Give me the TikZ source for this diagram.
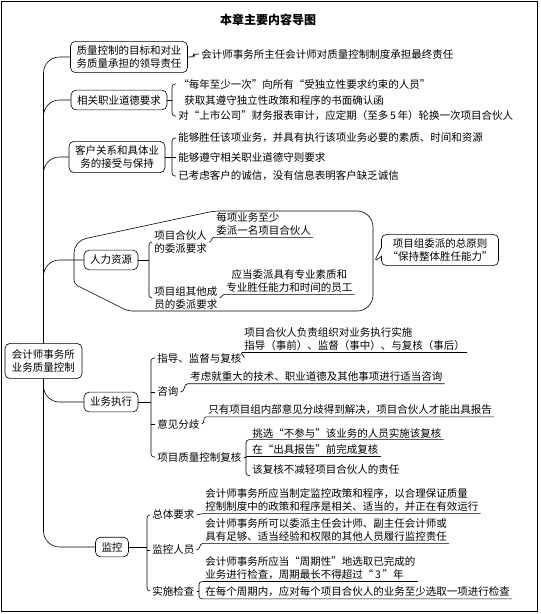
\documentclass[tikz,border=0pt]{standalone}
\usepackage{fontspec}
\newfontfamily\cjk{Noto Sans CJK SC}
\usetikzlibrary{shapes.callouts}
\tikzset{
  topic/.style={draw, rounded corners=5pt, align=center, inner xsep=6pt, inner ysep=5pt},
  leaf/.style={anchor=west, align=left, inner xsep=2pt, inner ysep=1.5pt},
  hook/.style={rounded corners=3pt},
  branch/.style={rounded corners=16pt},
  curl/.style={out=0, in=180, looseness=1.2}
}
\begin{document}
\begin{tikzpicture}[x=1pt, y=-1pt, line width=0.6pt, font=\cjk\fontsize{10.5}{13.5}\selectfont]
  \useasboundingbox (0,0) rectangle (541,614);
  \draw[line width=1pt] (1.5,1.5) rectangle (537.5,611);
  \node[font=\cjk\bfseries\fontsize{12}{14}\selectfont] (title) at (268,20) {本章主要内容导图};

  \node[topic, inner xsep=7pt, inner ysep=6pt] (root) at (43.5,361) {会计师事务所\\业务质量控制};
  \node[topic, inner ysep=4pt] (qc) at (129,57) {质量控制的目标和对业\\务质量承担的领导责任};
  \node[topic] (ethic) at (119,100) {相关职业道德要求};
  \node[topic, inner ysep=4pt] (client) at (117,157) {客户关系和具体业\\务的接受与保持};
  \node[topic] (hr) at (111,260) {人力资源};
  \node[topic] (exec) at (111,402) {业务执行};
  \node[topic] (mon) at (112,547) {监控};

  \draw[branch] (root.north) |- (qc.west);
  \draw[branch] (root.north) |- (ethic.west);
  \draw[branch] (root.north) |- (client.west);
  \draw[branch] (root.north) |- (hr.west);
  \draw[branch] (root.south) |- (exec.west);
  \draw[branch] (root.south) |- (mon.west);

  \node[leaf] (lqc) at (199,54) {会计师事务所主任会计师对质量控制制度承担最终责任};
  \draw[hook] (qc.east) -- ++(6,0) |- (lqc.west);

  \node[leaf] (e1) at (176,84) {“每年至少一次”向所有“受独立性要求约束的人员”};
  \node[leaf] (e2) at (182,100) {获取其遵守独立性政策和程序的书面确认函};
  \node[leaf] (e3) at (176,116) {对“上市公司”财务报表审计，应定期（至多\,5\,年）轮换一次项目合伙人};
  \coordinate (eb) at (172,100);
  \draw[hook] (e1.west) -| (eb) |- (e3.west);
  \draw (ethic.east) -- (eb);

  \node[leaf] (c1) at (176,138) {能够胜任该项业务，并具有执行该项业务必要的素质、时间和资源};
  \node[leaf] (c2) at (176,157) {能够遵守相关职业道德守则要求};
  \node[leaf] (c3) at (176,176) {已考虑客户的诚信，没有信息表明客户缺乏诚信};
  \coordinate (cb) at (172,157);
  \draw[hook] (c1.west) -| (cb) |- (c3.west);
  \draw (client.east) -- (c2.west);

  \draw[rounded corners=4pt] (74,284) [rounded corners=12pt] -- (74,241) [rounded corners=6pt] -- (214,211)
    [rounded corners=16pt] -- (373,211) -- (373,311) [rounded corners=4pt] -- (128,311) -- cycle;
  \node[rectangle callout, draw, rounded corners=5pt, align=center, inner xsep=6pt, inner ysep=4pt,
    callout absolute pointer={(374,262)}, callout pointer width=9pt] (rule) at (440,250)
    {项目组委派的总原则\\“保持整体胜任能力”};

  \node[leaf] (hp) at (152,242) {项目合伙人\\的委派要求};
  \node[leaf] (ho) at (152,298) {项目组其他成\\员的委派要求};
  \coordinate (hb) at (149,260);
  \draw[hook] (hp.west) -| (hb) |- (ho.west);
  \draw (hr.east) -- (hb);
  \node[leaf] (hpl) at (214,224) {每项业务至少\\委派一名项目合伙人};
  \node[leaf, align=center] (hol) at (224,281) {应当委派具有专业素质和\\专业胜任能力和时间的员工};
  \draw (hp.east) to[curl] (hpl.south west) -- (hpl.south east);
  \draw (ho.east) to[curl] (hol.south west) -- (hol.south east);

  \node[leaf] (guide) at (155,358) {指导、监督与复核};
  \node[leaf] (con) at (155,392) {咨询};
  \node[leaf] (dis) at (155,424) {意见分歧};
  \node[leaf] (qcr) at (155,457) {项目质量控制复核};
  \coordinate (xb) at (151,402);
  \draw[hook] (guide.west) -| (xb) |- (qcr.west);
  \draw (xb |- con.west) -- (con.west);
  \draw (xb |- dis.west) -- (dis.west);
  \draw (exec.east) -- (xb);
  \node[leaf] (gl) at (242,339) {项目合伙人负责组织对业务执行实施\\指导（事前）、监督（事中）、与复核（事后）};
  \node[leaf] (cl) at (188,377) {考虑就重大的技术、职业道德及其他事项进行适当咨询};
  \node[leaf] (dl) at (206,410) {只有项目组内部意见分歧得到解决，项目合伙人才能出具报告};
  \draw (guide.east) to[curl] (gl.south west) -- (gl.south east);
  \draw (con.east) to[curl] (cl.south west) -- (cl.south east);
  \draw (dis.east) to[curl] (dl.south west) -- (dl.south east);

  \node[leaf] (q1) at (250,433) {挑选“不参与”该业务的人员实施该复核};
  \node[leaf] (q2) at (250,450) {在“出具报告”前完成复核};
  \node[leaf] (q3) at (250,469) {该复核不减轻项目合伙人的责任};
  \coordinate (qb) at (246,457);
  \draw[hook] (q1.south east) -| (qb) |- (q3.south west);
  \draw (qb |- q2.south) -- (q2.south east);
  \draw (qcr.east) -- (qb);

  \node[leaf] (req) at (150,515) {总体要求};
  \node[leaf] (staff) at (150,550) {监控人员};
  \node[leaf] (insp) at (150,591) {实施检查};
  \coordinate (mb) at (147,547);
  \draw[hook] (req.west) -| (mb) |- (insp.west);
  \draw (mb |- staff.west) -- (staff.west);
  \draw (mon.east) -- (mb);
  \node[leaf] (rl) at (203,500) {会计师事务所应当制定监控政策和程序，以合理保证质量\\控制制度中的政策和程序是相关、适当的，并正在有效运行};
  \node[leaf] (sl) at (203,530) {会计师事务所可以委派主任会计师、副主任会计师或\\具有足够、适当经验和权限的其他人员履行监控责任};
  \node[leaf] (il) at (203,568) {会计师事务所应当“周期性”地选取已完成的\\业务进行检查，周期最长不得超过“\,3\,”年};
  \node[leaf] (i2) at (203,592) {在每个周期内，应对每个项目合伙人的业务至少选取一项进行检查};
  \draw (req.east) to[curl] (rl.south west) -- (rl.south east);
  \draw (staff.east) to[curl] (sl.south west) -- (sl.south east);
  \draw (il.south west) -- (il.south east);
  \coordinate (ib) at (199,591);
  \draw[hook] (il.south west) -| (ib) |- (i2.south east);
  \draw (insp.east) -- (ib);
\end{tikzpicture}
\end{document}
